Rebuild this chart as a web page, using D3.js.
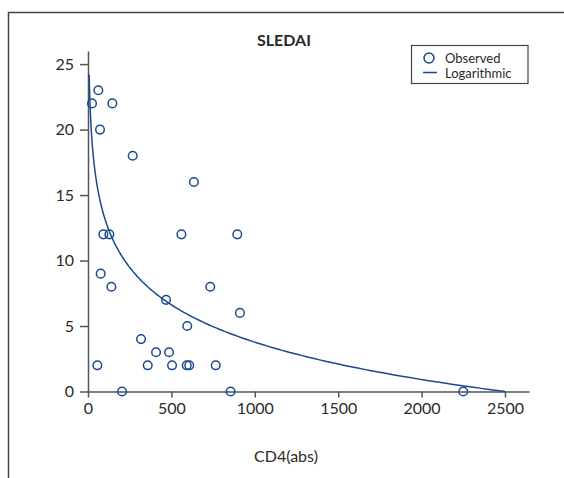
<!DOCTYPE html>
<html>
<head>
<meta charset="utf-8">
<script src="https://cdn.jsdelivr.net/npm/d3@7/dist/d3.min.js"></script>
<style>
  body { margin: 0; background: #fff; }
  svg { display: block; }
  text { font-family: Lato, "Open Sans", sans-serif; fill: #2a2a2a; }
</style>
</head>
<body>
<script>
// ---- data ----
const cd4 = [62, 24, 146, 72, 268, 635, 92, 128, 560, 895, 76, 140, 733, 468, 911,
             595, 318, 408, 486, 56, 358, 504, 592, 607, 766, 204, 855, 2250];
const sledai = [23, 22, 22, 20, 18, 16, 12, 12, 12, 12, 9, 8, 8, 7, 6,
                5, 4, 3, 3, 2, 2, 2, 2, 2, 2, 0, 0, 0];
const xTicks = [0, 500, 1000, 1500, 2000, 2500];
const yTicks = [0, 5, 10, 15, 20, 25];
// logarithmic fit: SLEDAI = a + b * ln(CD4)
const fitA = 32.2, fitB = -4.116;
const fitRange = [7, 2500];
const titleText = "SLEDAI";
const xLabel = "CD4(abs)";
const legendLabels = ["Observed", "Logarithmic"];

const W = 564, H = 478;
const blue = "#1b4a8c";
const axisCol = "#555";

const svg = d3.select("body").append("svg").attr("width", W).attr("height", H);

// outer frame (cropped on right and bottom)
svg.append("path")
  .attr("d", `M8.5,${H} L8.5,12.5 L${W},12.5`)
  .attr("fill", "none").attr("stroke", "#444").attr("stroke-width", 1.5);

const x = d3.scaleLinear().domain([0, 2644]).range([88, 529]);
const y = d3.scaleLinear().domain([0, 26]).range([391.5, 51]);

const xAxis = svg.append("g").attr("transform", `translate(0,${y(0)})`)
  .call(d3.axisBottom(x).tickValues(xTicks).tickFormat(d3.format("d"))
    .tickSize(6).tickSizeOuter(0).tickPadding(5));
const yAxis = svg.append("g").attr("transform", `translate(${x(0)},0)`)
  .call(d3.axisLeft(y).tickValues(yTicks).tickFormat(d3.format("d"))
    .tickSize(8).tickSizeOuter(0).tickPadding(6));

[xAxis, yAxis].forEach(g => {
  g.selectAll("path, line").attr("stroke", axisCol).attr("stroke-width", 1.5);
  g.selectAll("text").style("font-size", "16px").attr("fill", "#2a2a2a");
});

// fitted curve
const fitX = d3.range(Math.log(fitRange[0]), Math.log(fitRange[1]) + 1e-9, (Math.log(fitRange[1]) - Math.log(fitRange[0])) / 300)
  .map(Math.exp);
const line = d3.line().x(d => x(d)).y(d => y(fitA + fitB * Math.log(d)));
svg.append("path").datum(fitX).attr("d", line)
  .attr("fill", "none").attr("stroke", blue).attr("stroke-width", 1.5);

// observed points
svg.append("g").selectAll("circle").data(cd4).join("circle")
  .attr("cx", d => x(d)).attr("cy", (d, i) => y(sledai[i])).attr("r", 4.3)
  .attr("fill", "none").attr("stroke", blue).attr("stroke-width", 1.5);

// title
svg.append("text").attr("x", 284).attr("y", 45.5).attr("text-anchor", "middle")
  .style("font-size", "16px").style("font-weight", "bold").text(titleText);

// x label
svg.append("text").attr("x", 286).attr("y", 462).attr("text-anchor", "middle")
  .style("font-size", "16px").text(xLabel);

// legend
const lg = svg.append("g");
lg.append("rect").attr("x", 411.5).attr("y", 45.5).attr("width", 116.5).attr("height", 38)
  .attr("fill", "#fff").attr("stroke", "#444").attr("stroke-width", 1.2);
lg.append("circle").attr("cx", 429).attr("cy", 58).attr("r", 5)
  .attr("fill", "none").attr("stroke", blue).attr("stroke-width", 1.5);
lg.append("line").attr("x1", 423).attr("x2", 437).attr("y1", 72.5).attr("y2", 72.5)
  .attr("stroke", blue).attr("stroke-width", 1.5);
lg.append("text").attr("x", 445).attr("y", 62.5).style("font-size", "13px").text(legendLabels[0]);
lg.append("text").attr("x", 445).attr("y", 77.5).style("font-size", "13px").text(legendLabels[1]);
</script>
</body>
</html>
